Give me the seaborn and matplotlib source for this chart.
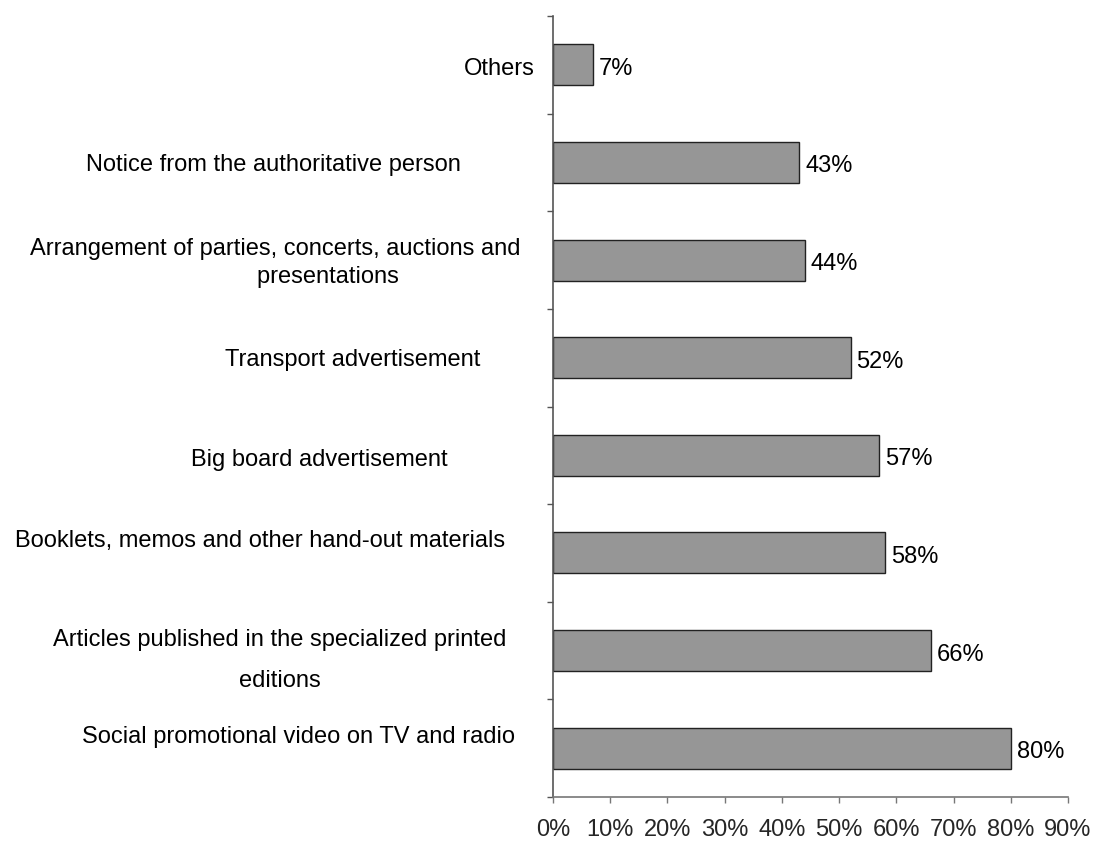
import matplotlib
matplotlib.use("Agg")
import matplotlib.pyplot as plt
import seaborn as sns
import pandas as pd
from matplotlib.ticker import FixedLocator

categories = [
    "Others",
    "Notice from the authoritative person",
    "Arrangement of parties, concerts, auctions and presentations",
    "Transport advertisement",
    "Big board advertisement",
    "Booklets, memos and other hand-out materials",
    "Articles published in the specialized printed editions",
    "Social promotional video on TV and radio",
]
values = [7, 43, 44, 52, 57, 58, 66, 80]
display_labels = [
    "Others",
    "Notice from the authoritative person",
    "Arrangement of parties, concerts, auctions and\n" + " " * 16 + "presentations",
    "Transport advertisement",
    "Big board advertisement",
    "Booklets, memos and other hand-out materials",
    "Articles published in the specialized printed\neditions",
    "Social promotional video on TV and radio",
]
x_ticks = [0, 10, 20, 30, 40, 50, 60, 70, 80, 90]
x_tick_labels = [f"{t}%" for t in x_ticks]

# label placement (pixel offsets of label centre relative to axes left / band centre)
label_dx = [-54, -280, -278, -200, -234, -293, -273, -255]
label_dy = [4, 3, 3, 2, 5, -12, 10, -11]
label_ls = [1.2, 1.2, 1.34, 1.2, 1.2, 1.2, 2.1, 1.2]

sns.set_theme(style="white")
plt.rcParams["font.family"] = ["Liberation Sans", "DejaVu Sans"]
FS = 17

df = pd.DataFrame({"category": categories, "value": values})

fig = plt.figure(figsize=(10.93, 8.43), dpi=100)
ax = fig.add_axes([553 / 1093, 1 - 797 / 843, (1068 - 553) / 1093, (797 - 16) / 843])

sns.barplot(data=df, x="value", y="category", orient="h", color="#969696",
            saturation=1, width=0.42, edgecolor="#222222", linewidth=1.0, ax=ax)

ax.set_xlim(0, 90)
ax.set_ylim(len(categories) - 0.5, -0.5)
ax.set_xticks(x_ticks)
ax.set_xticklabels(x_tick_labels, fontsize=FS)
ax.yaxis.set_major_locator(FixedLocator([i - 0.5 for i in range(len(categories) + 1)]))
ax.set_yticklabels([])
ax.set_xlabel("")
ax.set_ylabel("")

for s in ["top", "right"]:
    ax.spines[s].set_visible(False)
ax.spines["left"].set_color("#555555")
ax.spines["bottom"].set_color("#777777")
ax.spines["left"].set_linewidth(1.2)
ax.spines["bottom"].set_linewidth(1.2)
ax.tick_params(axis="y", left=True, length=4.5, width=1, color="#555555", direction="out")
ax.tick_params(axis="x", bottom=True, length=4.5, width=1, color="#777777", direction="out", pad=11)

for i, (lab, dx, dy, ls) in enumerate(zip(display_labels, label_dx, label_dy, label_ls)):
    ax.annotate(lab, xy=(0, i), xycoords=("axes fraction", "data"),
                xytext=(dx, -dy), textcoords="offset pixels",
                ha="center", va="center", multialignment="center",
                linespacing=ls, fontsize=FS, color="black", annotation_clip=False)

for i, v in enumerate(values):
    ax.annotate(f"{v}%", xy=(v, i), xycoords="data", xytext=(6, -4),
                textcoords="offset pixels", ha="left", va="center",
                fontsize=FS, color="black")

fig.savefig("out.png", dpi=100, facecolor="white")
